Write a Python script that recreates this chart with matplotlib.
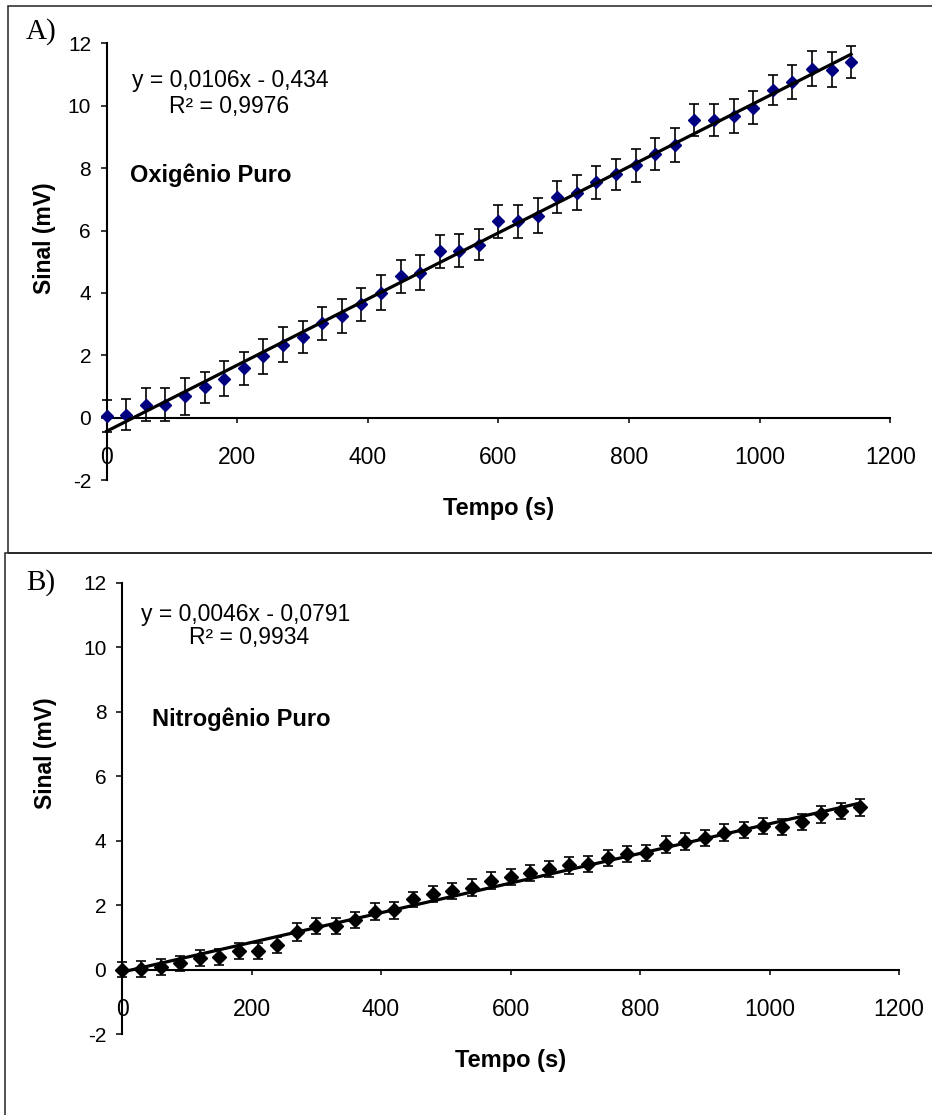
import numpy as np
import matplotlib
matplotlib.use('Agg')
import matplotlib.pyplot as plt
from matplotlib.patches import Rectangle

plt.rcParams['font.family'] = ['Liberation Sans', 'DejaVu Sans']
plt.rcParams['axes.unicode_minus'] = False

# tempo (s), same for both runs
tempo = np.arange(0, 1141, 30)

# A) oxigenio puro
sinal_o2 = [0.05, 0.10, 0.42, 0.42, 0.68, 0.97, 1.25, 1.59, 1.97, 2.34,
            2.59, 3.02, 3.27, 3.63, 4.00, 4.53, 4.64, 5.34, 5.35, 5.55,
            6.30, 6.30, 6.48, 7.07, 7.21, 7.55, 7.80, 8.09, 8.44, 8.74,
            9.54, 9.54, 9.67, 9.94, 10.49, 10.76, 11.19, 11.16, 11.40]
erro_o2 = [0.51, 0.51, 0.53, 0.53, 0.59, 0.51, 0.56, 0.53, 0.56, 0.56,
           0.52, 0.53, 0.55, 0.53, 0.56, 0.53, 0.56, 0.53, 0.53, 0.50,
           0.53, 0.53, 0.55, 0.51, 0.56, 0.53, 0.50, 0.53, 0.51, 0.56,
           0.50, 0.50, 0.56, 0.53, 0.48, 0.53, 0.55, 0.57, 0.50]
fit_o2 = (0.0106, -0.434)

# B) nitrogenio puro
sinal_n2 = [0.00, 0.03, 0.08, 0.19, 0.35, 0.39, 0.57, 0.57, 0.77, 1.16,
            1.35, 1.35, 1.55, 1.79, 1.84, 2.18, 2.35, 2.43, 2.54, 2.76,
            2.87, 2.99, 3.13, 3.23, 3.26, 3.47, 3.58, 3.61, 3.87, 3.97,
            4.07, 4.25, 4.33, 4.46, 4.41, 4.58, 4.82, 4.92, 5.03]
erro_n2 = [0.24, 0.25, 0.25, 0.24, 0.25, 0.25, 0.25, 0.25, 0.25, 0.27,
           0.26, 0.26, 0.25, 0.26, 0.26, 0.24, 0.25, 0.25, 0.26, 0.25,
           0.25, 0.25, 0.25, 0.26, 0.25, 0.25, 0.25, 0.25, 0.26, 0.25,
           0.25, 0.25, 0.26, 0.25, 0.25, 0.25, 0.26, 0.26, 0.27]
fit_n2 = (0.0046, -0.0791)

W, H = 932, 1115
fig = plt.figure(figsize=(W / 100, H / 100), dpi=100)

def fx(px):
    return px / W

def fy(py):
    return 1 - py / H

# panel frames
fig.add_artist(Rectangle((fx(8), fy(553)), 2, (553 - 6) / H, transform=fig.transFigure,
                         fill=False, ec='#222222', lw=1.1))
fig.add_artist(Rectangle((fx(5), fy(1300)), 2, (1300 - 553) / H, transform=fig.transFigure,
                         fill=False, ec='#222222', lw=1.1))


def painel(rect, y, err, fit, cor, ms, eq, r2, nome, eqpos, r2pos, nomepos, xlab_y, ylab_xy):
    ax = fig.add_axes(rect)
    ax.errorbar(tempo, y, yerr=err, fmt='D', color=cor, ms=ms, mec=cor,
                ecolor='black', elinewidth=1.2, capsize=3.8, capthick=1.2,
                clip_on=False, zorder=3)
    xf = np.array([tempo[0], tempo[-1]])
    ax.plot(xf, fit[0] * xf + fit[1], color='black', lw=2.3, zorder=4, clip_on=False)
    ax.set_xlim(0, 1200)
    ax.set_ylim(-2, 12)
    ax.set_xticks(range(0, 1201, 200))
    ax.set_yticks(range(-2, 13, 2))
    for s in ['top', 'right']:
        ax.spines[s].set_visible(False)
    ax.spines['bottom'].set_position(('data', 0))
    ax.spines['left'].set_linewidth(1.5)
    ax.spines['bottom'].set_linewidth(1.5)
    ax.tick_params(axis='x', direction='out', length=3.6, width=1.1, pad=17, labelsize=16.5)
    ax.tick_params(axis='y', direction='out', length=4.3, width=1.1, pad=7, labelsize=15)
    ax.set_xlabel('Tempo (s)', fontsize=17, fontweight='bold', va='center')
    ax.xaxis.set_label_coords(0.5, xlab_y)
    ax.set_ylabel('Sinal (mV)', fontsize=16.5, fontweight='bold', va='center')
    ax.yaxis.set_label_coords(*ylab_xy)
    ax.text(*eqpos, eq, fontsize=16.5, ha='center', va='center')
    ax.text(*r2pos, r2, fontsize=16.5, ha='center', va='center')
    ax.text(*nomepos, nome, fontsize=17, fontweight='bold', ha='left', va='center')
    return ax


painel([fx(106.7), fy(480.1), (890.3 - 106.7) / W, (480.1 - 43.3) / H],
       sinal_o2, erro_o2, fit_o2, '#000080', 6.3,
       'y = 0,0106x - 0,434', 'R² = 0,9976', 'Oxigênio Puro',
       (189, 10.82), (187, 9.96), (36, 7.77), -0.064, (-0.079, 0.553))

painel([fx(122), fy(1034), (899 - 122) / W, (1034 - 582.7) / H],
       sinal_n2, erro_n2, fit_n2, 'black', 6.8,
       'y = 0,0046x - 0,0791', 'R² = 0,9934', 'Nitrogênio Puro',
       (191, 11.0), (196, 10.3), (46, 7.75), -0.058, (-0.099, 0.623))

fig.text(fx(26), fy(32), 'A)', family='Liberation Serif', fontsize=21, ha='left', va='center')
fig.text(fx(26), fy(583), 'B)', family='Liberation Serif', fontsize=21, ha='left', va='center')

fig.savefig('out.png', dpi=100)
